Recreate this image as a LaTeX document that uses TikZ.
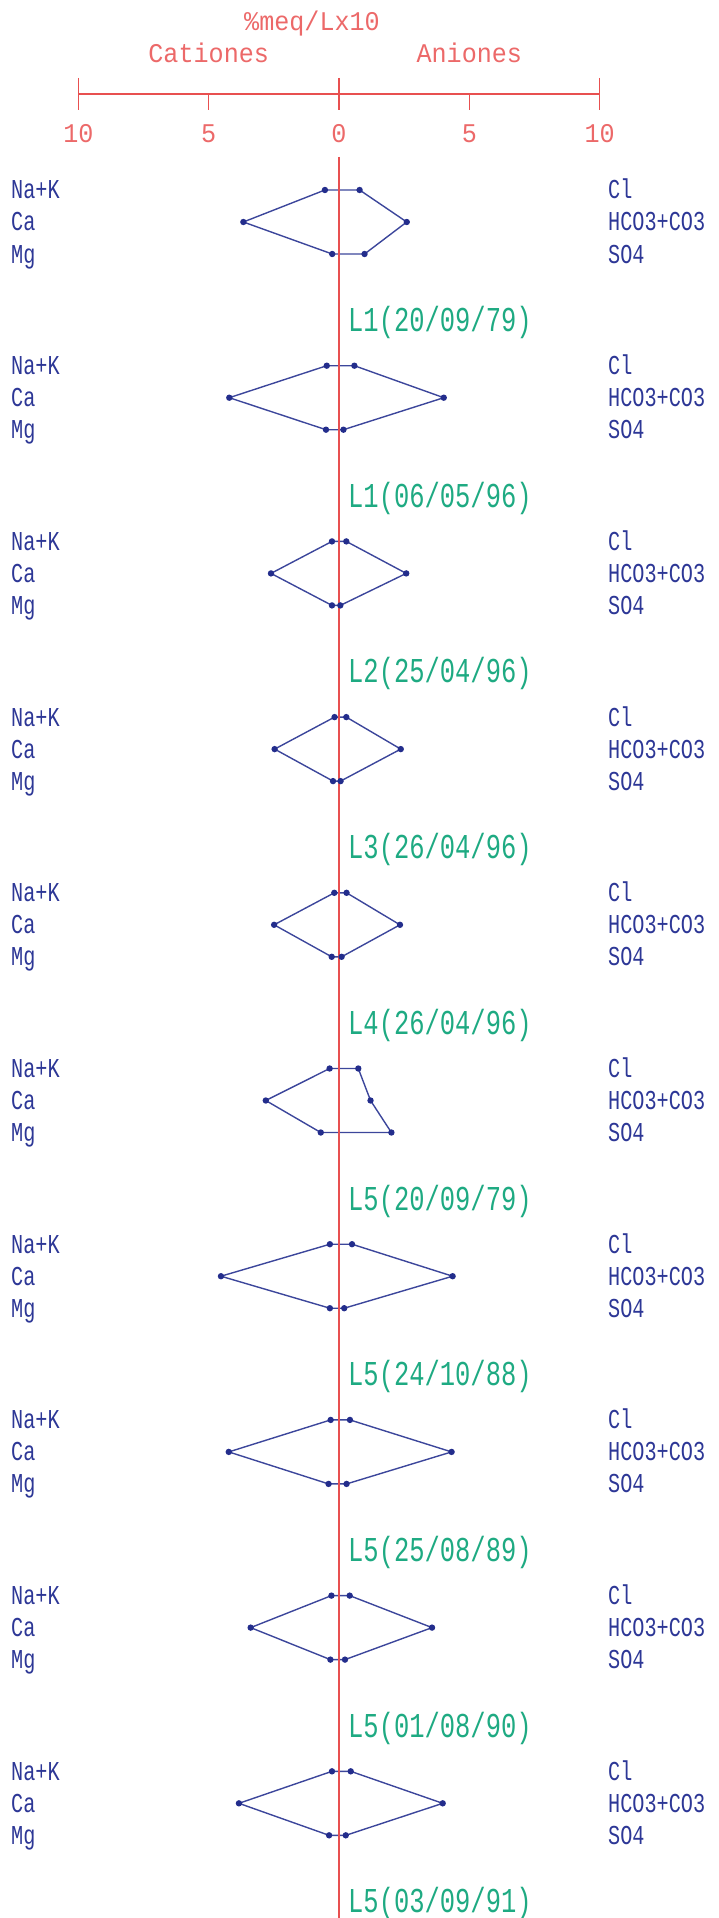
\documentclass[tikz,border=0pt]{standalone}
\usepackage{fontspec}
\newfontfamily\bluefont[FakeStretch=0.74]{Liberation Mono}
\newfontfamily\greenfont[FakeStretch=0.73]{Liberation Mono}
\newfontfamily\redfont[FakeStretch=0.93]{Liberation Mono}
\definecolor{axred}{RGB}{232,80,80}
\definecolor{txtred}{RGB}{236,105,105}
\definecolor{polyblue}{RGB}{60,70,155}
\definecolor{dotblue}{RGB}{35,45,140}
\definecolor{txtblue}{RGB}{45,55,150}
\definecolor{txtgreen}{RGB}{30,170,130}
\tikzset{
  axisline/.style={draw=axred, line width=1.1pt},
  redtxt/.style={text=txtred, font=\redfont\fontsize{27}{30}\selectfont, inner sep=0pt},
  bluetxt/.style={text=txtblue, font=\bluefont\fontsize{27.3}{30}\selectfont, inner sep=0pt, anchor=base west},
  greentxt/.style={text=txtgreen, font=\greenfont\fontsize{34.9}{38}\selectfont, inner sep=0pt, anchor=base west},
  polyline/.style={draw=polyblue, line width=1.4pt, line join=round},
  dotstyle/.style={fill=dotblue}
}
\begin{document}
\begin{tikzpicture}[x=1pt,y=-1pt]
\useasboundingbox (0,0) rectangle (718,1918);
% top scale
\coordinate (axL) at (78.4,94);
\coordinate (axR) at (599.6,94);
\draw[axisline] (axL) -- (axR);
\foreach \v/\t in {-10/10,0/0,10/10}{
  \draw[axisline] ({339+26.06*\v},78) -- ({339+26.06*\v},110);
  \node[redtxt, anchor=base] (tick\v) at ({339+26.06*\v},143) {\t};
}
\foreach \v/\t in {-5/5,5/5}{
  \draw[axisline] ({339+26.06*\v},94) -- ({339+26.06*\v},110);
  \node[redtxt, anchor=base] (tick\v) at ({339+26.06*\v},143) {\t};
}
\node[redtxt, anchor=base] (units) at (312,31) {\%meq/Lx10};
\node[redtxt, anchor=base] (cat) at (208.7,63) {Cationes};
\node[redtxt, anchor=base] (an) at (469.3,63) {Aniones};
% panels
\foreach \k/\na/\cl/\ca/\hc/\mg/\so/\L/\dd/\mm/\yy in {
  1/0.54/0.79/3.67/2.60/0.26/0.98/L1/20/09/79,
  2/0.47/0.59/4.21/4.02/0.50/0.17/L1/06/05/96,
  3/0.27/0.28/2.61/2.58/0.27/0.05/L2/25/04/96,
  4/0.17/0.28/2.47/2.37/0.23/0.06/L3/26/04/96,
  5/0.18/0.29/2.49/2.34/0.28/0.10/L4/26/04/96,
  6/0.36/0.74/2.81/1.21/0.70/2.01/L5/20/09/79,
  7/0.35/0.50/4.53/4.36/0.35/0.20/L5/24/10/88,
  8/0.32/0.42/4.23/4.32/0.40/0.29/L5/25/08/89,
  9/0.29/0.41/3.39/3.57/0.33/0.23/L5/01/08/90,
  10/0.27/0.45/3.84/3.98/0.38/0.26/L5/03/09/91}{
  \pgfmathsetmacro{\yt}{190+175.7*(\k-1)}
  \pgfmathsetmacro{\ym}{\yt+32}
  \pgfmathsetmacro{\yb}{\yt+64}
  \coordinate (na\k) at ({339-26.06*\na},\yt);
  \coordinate (cl\k) at ({339+26.06*\cl},\yt);
  \coordinate (ca\k) at ({339-26.06*\ca},\ym);
  \coordinate (hc\k) at ({339+26.06*\hc},\ym);
  \coordinate (mg\k) at ({339-26.06*\mg},\yb);
  \coordinate (so\k) at ({339+26.06*\so},\yb);
  \draw[polyline] (na\k) -- (cl\k) -- (hc\k) -- (so\k) -- (mg\k) -- (ca\k) -- cycle;
  \node[bluetxt] (lna\k) at (11,\yt+9) {Na+K};
  \node[bluetxt] (lca\k) at (11,\ym+9) {Ca};
  \node[bluetxt] (lmg\k) at (11,\yb+9) {Mg};
  \node[bluetxt] (lcl\k) at (608,\yt+9) {Cl};
  \node[bluetxt] (lhc\k) at (608,\ym+9) {HCO3+CO3};
  \node[bluetxt] (lso\k) at (608,\yb+9) {SO4};
  \node[greentxt] (lab\k) at (348,\yt+141.5) {\L(\dd/\mm/\yy)};
}
\coordinate (vtop) at (339,157);
\coordinate (vbot) at (339,1918);
\draw[axisline] (vtop) -- (vbot);
\foreach \k in {1,...,10}{
  \foreach \p in {na,cl,ca,hc,mg,so}{
    \fill[dotstyle] (\p\k) circle[radius=3.2pt];
  }
}
\end{tikzpicture}
\end{document}
